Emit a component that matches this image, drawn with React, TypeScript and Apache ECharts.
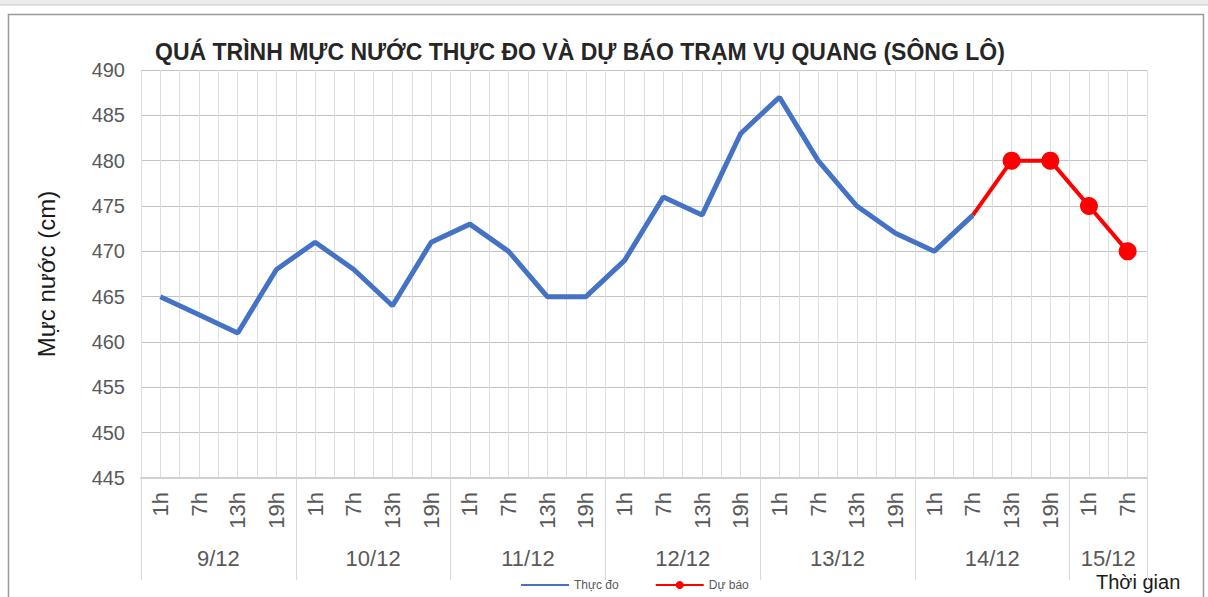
import React, { useEffect, useRef } from "react";
import * as echarts from "echarts";

const days = ["9/12", "10/12", "11/12", "12/12", "13/12", "14/12", "15/12"];
const hoursPerDay = [
  ["1h", "7h", "13h", "19h"],
  ["1h", "7h", "13h", "19h"],
  ["1h", "7h", "13h", "19h"],
  ["1h", "7h", "13h", "19h"],
  ["1h", "7h", "13h", "19h"],
  ["1h", "7h", "13h", "19h"],
  ["1h", "7h"],
];
// observed water level (cm) from 9/12 1h to 14/12 7h
const observed = [465, 463, 461, 468, 471, 468, 464, 471, 473, 470, 465, 465, 469, 476, 474, 483, 487, 480, 475, 472, 470, 474];
// forecast starting at 14/12 7h
const forecastStart = 21;
const forecast = [474, 480, 480, 475, 470];
const yTicks = { min: 445, max: 490, interval: 5 };

export default function App() {
  const ref = useRef<HTMLDivElement>(null);
  useEffect(() => {
    if (!ref.current) return;
    const chart = echarts.init(ref.current, null, { renderer: "svg" });
    const categories: string[] = [];
    hoursPerDay.forEach((hs, d) => hs.forEach((h) => categories.push(d + "|" + h)));
    const n = categories.length;
    const dayBounds: number[] = [0];
    const dayCenters: number[] = [];
    let acc = 0;
    hoursPerDay.forEach((hs) => {
      dayCenters.push(acc + hs.length / 2);
      acc += hs.length;
      dayBounds.push(acc);
    });
    const halves = Array.from({ length: n * 2 }, (_, i) => String(i));
    const obsData = categories.map((_, i) => (i < observed.length ? observed[i] : null));
    const fcData: any[] = categories.map((_, i) => {
      const k = i - forecastStart;
      if (k < 0 || k >= forecast.length) return null;
      return k === 0 ? { value: forecast[k], symbol: "none" } : forecast[k];
    });
    const font = "'Liberation Sans', Arial, sans-serif";
    chart.setOption({
      animation: false,
      textStyle: { fontFamily: font },
      title: {
        text: "QUÁ TRÌNH MỰC NƯỚC THỰC ĐO VÀ DỰ BÁO TRẠM VỤ QUANG (SÔNG LÔ)",
        left: 150,
        top: 35,
        textStyle: { fontSize: 23, fontWeight: "bold", color: "#262626", fontFamily: font },
      },
      legend: {
        left: 515,
        top: 574,
        itemWidth: 48,
        itemHeight: 10,
        itemGap: 36,
        textStyle: { fontSize: 12, color: "#595959" },
        data: [{ name: "Thực đo", itemStyle: { opacity: 0 } }, { name: "Dự báo" }],
      },
      grid: { left: 141, right: 61, top: 70, bottom: 119 },
      xAxis: [
        {
          type: "category",
          data: categories,
          boundaryGap: true,
          axisLine: { show: true, lineStyle: { color: "#d0d0d0", width: 2 } },
          axisTick: { show: false },
          splitLine: { show: false },
          axisLabel: {
            interval: 0,
            rotate: 90,
            margin: 14,
            fontSize: 22,
            color: "#595959",
            formatter: (v: string) => v.split("|")[1],
          },
        },
        {
          type: "value",
          position: "bottom",
          min: 0,
          max: n,
          interval: 1,
          axisLine: { show: false },
          splitLine: { show: false },
          axisTick: {
            show: true,
            length: 102,
            customValues: dayBounds,
            lineStyle: { color: "#d9d9d9", width: 1 },
          },
          axisLabel: {
            show: true,
            customValues: dayCenters,
            margin: 69,
            fontSize: 22,
            color: "#595959",
            formatter: (v: number) => {
              const i = dayCenters.indexOf(v);
              return i >= 0 ? days[i] : "";
            },
          },
        },
        {
          type: "category",
          position: "top",
          data: halves,
          boundaryGap: true,
          axisLine: { show: false },
          axisTick: { show: false },
          axisLabel: { show: false },
          splitLine: { show: true, interval: 0, lineStyle: { color: "#dedede", width: 1 } },
        },
      ],
      yAxis: {
        type: "value",
        min: yTicks.min,
        max: yTicks.max,
        interval: yTicks.interval,
        name: "Mực nước (cm)",
        nameLocation: "middle",
        nameGap: 83,
        nameTextStyle: { fontSize: 24, color: "#1a1a1a" },
        axisLine: { show: false },
        axisTick: { show: false },
        axisLabel: { fontSize: 20, color: "#595959", margin: 16 },
        splitLine: { show: true, lineStyle: { color: "#c4c4c4", width: 1 } },
      },
      graphic: [
        { type: "rect", shape: { x: 0, y: 0, width: 1208, height: 5 }, style: { fill: "#ececec" }, silent: true },
        { type: "line", shape: { x1: 0, y1: 5, x2: 1208, y2: 5 }, style: { stroke: "#c8c8c8", lineWidth: 1 }, silent: true },
        {
          type: "rect",
          shape: { x: 8.5, y: 14.5, width: 1195, height: 600 },
          style: { fill: "none", stroke: "#9a9a9a", lineWidth: 1.5 },
          silent: true,
          z: -1,
        },
        {
          type: "text",
          left: 1096,
          top: 572,
          style: { text: "Thời gian", fontSize: 20, fill: "#1a1a1a", fontFamily: font },
        },
      ],
      series: [
        {
          name: "Thực đo",
          type: "line",
          xAxisIndex: 0,
          data: obsData,
          symbol: "none",
          lineStyle: { color: "#4472C4", width: 5 },
          itemStyle: { color: "#4472C4" },
          z: 2,
        },
        {
          name: "Dự báo",
          type: "line",
          xAxisIndex: 0,
          data: fcData,
          symbol: "circle",
          symbolSize: 18,
          lineStyle: { color: "#FF0000", width: 4 },
          itemStyle: { color: "#FF0000" },
          z: 3,
        },
      ],
    });
    return () => chart.dispose();
  }, []);
  return <div ref={ref} style={{ position: "absolute", left: 0, top: 0, width: 1208, height: 597 }} />;
}
